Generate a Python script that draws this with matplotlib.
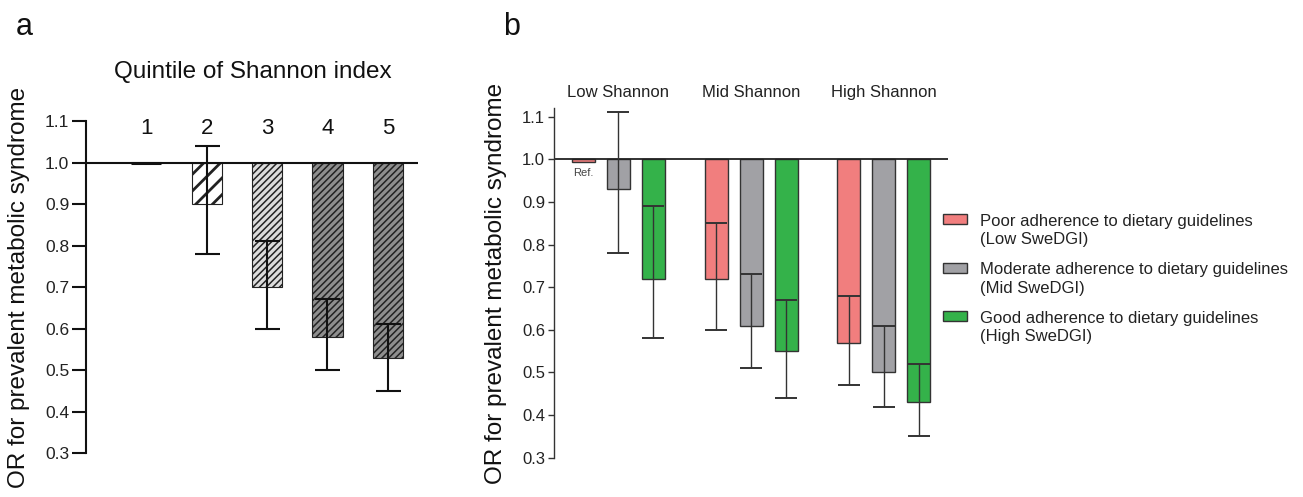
import numpy as np
import matplotlib as mpl
import matplotlib.pyplot as plt
from matplotlib.patches import Patch, Rectangle
from matplotlib.legend_handler import HandlerPatch

plt.rcParams['font.family'] = ['Liberation Sans', 'DejaVu Sans']
plt.rcParams['hatch.linewidth'] = 1.1

# panel a: OR by quintile of Shannon index
quintiles = ['1', '2', '3', '4', '5']
or_a = [1.0, 0.90, 0.70, 0.58, 0.53]
lo_a = [np.nan, 0.78, 0.60, 0.50, 0.45]
hi_a = [np.nan, 1.04, 0.81, 0.67, 0.61]

# panel b: OR by Shannon group x SweDGI adherence
groups = ['Low Shannon', 'Mid Shannon', 'High Shannon']
adherence = ['Poor adherence to dietary guidelines\n(Low SweDGI)',
             'Moderate adherence to dietary guidelines\n(Mid SweDGI)',
             'Good adherence to dietary guidelines\n(High SweDGI)']
or_b = [[0.993, 0.93, 0.72],
        [0.72, 0.61, 0.55],
        [0.57, 0.50, 0.43]]
lo_b = [[np.nan, 0.78, 0.58],
        [0.60, 0.51, 0.44],
        [0.47, 0.42, 0.35]]
hi_b = [[np.nan, 1.11, 0.89],
        [0.85, 0.73, 0.67],
        [0.68, 0.61, 0.52]]

fig = plt.figure(figsize=(13.03, 4.97), dpi=100)

# ---------- a ----------
ax = fig.add_axes([0.066, 0.0885, 0.2548, 0.668])
x = np.arange(1, 6)
faces = ['none', 'white', '#dcdcdc', '#8e8e8e', '#8e8e8e']
hatches = [None, '//', '/////', '/////', '/////']
for i in range(5):
    h = or_a[i] - 1.0
    if i == 0:
        ax.bar(x[i], h, bottom=1.0, width=0.5, color='none', edgecolor='#111', lw=2.2)
    else:
        with mpl.rc_context({'hatch.linewidth': 2.0 if i == 1 else 1.1}):
            ax.bar(x[i], h, bottom=1.0, width=0.5, color=faces[i], edgecolor='#222',
                   hatch=hatches[i], lw=0.8)
lo = np.array(or_a) - np.array(lo_a)
hi = np.array(hi_a) - np.array(or_a)
ax.errorbar(x, or_a, yerr=[lo, hi], fmt='none', ecolor='#111', elinewidth=1.5,
            capsize=9, capthick=1.5, zorder=5)
ax.axhline(1.0, color='#111', lw=1.5)
for xi, q in zip(x, quintiles):
    ax.text(xi, 1.083, q, ha='center', va='center', fontsize=16, color='#111')
ax.text(0.503, 1.148, 'Quintile of Shannon index', transform=ax.transAxes,
        ha='center', va='center', fontsize=17.5, color='#111')
ax.set_xlim(0.0, 5.5)
ax.set_ylim(0.3, 1.1)
ax.set_yticks(np.arange(0.3, 1.11, 0.1))
ax.set_yticklabels([f'{v:.1f}' for v in np.arange(0.3, 1.11, 0.1)])
ax.set_xticks([])
for s in ['top', 'right', 'bottom']:
    ax.spines[s].set_visible(False)
ax.spines['left'].set_linewidth(1.5)
ax.spines['left'].set_color('#111')
ax.tick_params(axis='y', length=10, width=1.5, color='#111', labelsize=12.5,
               labelcolor='#222', pad=2)
ax.set_ylabel('OR for prevalent metabolic syndrome', fontsize=17.5, color='#111')
ax.yaxis.set_label_coords(-0.17, 0.5)

# ---------- b ----------
bx = fig.add_axes([0.4248, 0.0791, 0.3028, 0.7032])
colors = ['#f17e7e', '#a1a1a5', '#34b24a']
centers = np.array([0.0, 3.8, 7.6]) + 1
for j in range(3):
    pos = centers - 1 + j
    vals = np.array([or_b[g][j] for g in range(3)])
    bx.bar(pos, vals - 1.0, bottom=1.0, width=0.66, color=colors[j],
           edgecolor='#333', lw=1.0, label=adherence[j])
    lv = np.array([lo_b[g][j] for g in range(3)])
    hv = np.array([hi_b[g][j] for g in range(3)])
    bx.errorbar(pos, vals, yerr=[vals - lv, hv - vals], fmt='none', ecolor='#333',
                elinewidth=1.0, capsize=8, capthick=1.4, zorder=5)
bx.axhline(1.0, color='#222', lw=1.3)
for c, g in zip(centers, groups):
    bx.text(c, 1.158, g, ha='center', va='center', fontsize=12, color='#222',
            clip_on=False)
bx.text(centers[0] - 1, 0.967, 'Ref.', ha='center', va='center', fontsize=8,
        color='#444')
bx.set_xlim(-0.86, 10.44)
bx.set_ylim(0.3, 1.12)
bx.set_yticks(np.arange(0.3, 1.11, 0.1))
bx.set_yticklabels([f'{v:.1f}' for v in np.arange(0.3, 1.11, 0.1)])
bx.set_xticks([])
for s in ['top', 'right', 'bottom']:
    bx.spines[s].set_visible(False)
bx.spines['left'].set_linewidth(1.0)
bx.spines['left'].set_color('#333')
bx.tick_params(axis='y', length=4, width=1.0, color='#333', labelsize=12,
               labelcolor='#222', pad=2)
bx.set_ylabel('OR for prevalent metabolic syndrome', fontsize=17.5, color='#111')
bx.yaxis.set_label_coords(-0.117, 0.5)


# legend swatch sits level with the first line of each two-line label
def top_patch(legend, orig_handle, xdescent, ydescent, width, height, fontsize):
    ph = 0.6 * fontsize
    return Rectangle((-xdescent, -ydescent + height - ph + 0.23 * fontsize), width, ph)


handles = [Patch(facecolor=c, edgecolor='#333', lw=1.0) for c in colors]
leg = fig.legend(handles, adherence, loc='upper left', bbox_to_anchor=(0.712, 0.6),
                 frameon=False, fontsize=12, handlelength=1.45, handleheight=2.0,
                 handletextpad=0.8, labelspacing=0.9, labelcolor='#222',
                 handler_map={Patch: HandlerPatch(patch_func=top_patch)})
for t in leg.get_texts():
    t.set_linespacing(1.28)

fig.text(0.012, 0.93, 'a', fontsize=22, color='#111')
fig.text(0.386, 0.93, 'b', fontsize=22, color='#111')

fig.savefig('out.png', dpi=100)
